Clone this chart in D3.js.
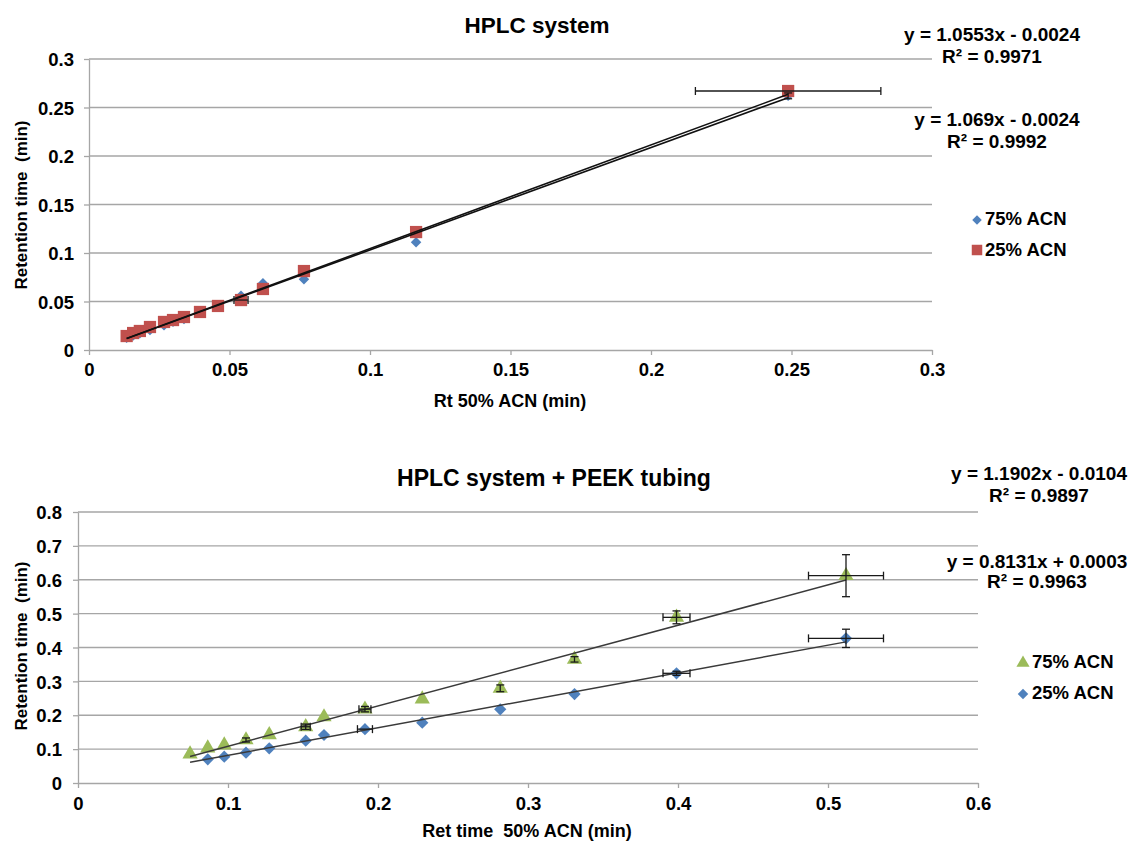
<!DOCTYPE html>
<html>
<head>
<meta charset="utf-8">
<script src="https://cdn.jsdelivr.net/npm/d3@7"></script>
<style>
  html, body { margin: 0; padding: 0; background: #fff; }
  svg { display: block; font-family: "Liberation Sans", Arial, sans-serif; font-weight: bold; }
</style>
</head>
<body>
<svg id="chart" width="1130" height="842"></svg>
<script>
// ---------- Top chart: HPLC system ----------
const topX = [0.0134, 0.0157, 0.0181, 0.0217, 0.0267, 0.0299, 0.0338, 0.0395, 0.0459, 0.0541, 0.0619, 0.0765, 0.1164, 0.2488];
const top75 = [0.0125, 0.0150, 0.0172, 0.0205, 0.0255, 0.0290, 0.0320, 0.0385, 0.0462, 0.0560, 0.0688, 0.0730, 0.1110, 0.2620];
const top25 = [0.0144, 0.0175, 0.0196, 0.0237, 0.0289, 0.0309, 0.0340, 0.0392, 0.0454, 0.0515, 0.0629, 0.0814, 0.1216, 0.2670];
const top25XErr = [0, 0, 0, 0, 0, 0, 0, 0, 0, 0.0025, 0, 0, 0, 0.033];
const top75YErr = [0, 0, 0, 0, 0, 0, 0, 0, 0, 0, 0, 0, 0, 0.003];
const topXTicks = [0, 0.05, 0.1, 0.15, 0.2, 0.25, 0.3];
const topYTicks = [0, 0.05, 0.1, 0.15, 0.2, 0.25, 0.3];
const topTrend75 = { slope: 1.0553, intercept: -0.0024, r2: "0.9971", eq: "y = 1.0553x - 0.0024" };
const topTrend25 = { slope: 1.069, intercept: -0.0024, r2: "0.9992", eq: "y = 1.069x - 0.0024" };
const topLegend = ["75% ACN", "25% ACN"];

// ---------- Bottom chart: HPLC system + PEEK tubing ----------
const botX = [0.0747, 0.0865, 0.0975, 0.112, 0.1275, 0.1518, 0.164, 0.1913, 0.2295, 0.2815, 0.331, 0.399, 0.512];
const bot75 = [0.0856, 0.103, 0.112, 0.127, 0.142, 0.166, 0.195, 0.218, 0.248, 0.2795, 0.365, 0.489, 0.612];
const bot25X = [0.0865, 0.0975, 0.112, 0.1275, 0.1518, 0.164, 0.1913, 0.2295, 0.2815, 0.331, 0.399, 0.512];
const bot25 = [0.070, 0.0777, 0.0895, 0.1024, 0.125, 0.1417, 0.159, 0.178, 0.2175, 0.2627, 0.3238, 0.427];
const bot75XErr = [0, 0, 0, 0, 0, 0.003, 0, 0.004, 0, 0, 0, 0.009, 0.025];
const bot75YErr = [0, 0, 0, 0.006, 0, 0.008, 0, 0.008, 0, 0.010, 0.008, 0.019, 0.062];
const bot25XErr = [0, 0, 0, 0, 0, 0, 0.005, 0, 0, 0, 0.009, 0.025];
const bot25YErr = [0, 0, 0, 0, 0, 0, 0, 0, 0, 0, 0.006, 0.027];
const botXTicks = [0, 0.1, 0.2, 0.3, 0.4, 0.5, 0.6];
const botYTicks = [0, 0.1, 0.2, 0.3, 0.4, 0.5, 0.6, 0.7, 0.8];
const botTrend75 = { slope: 1.1902, intercept: -0.0104, r2: "0.9897", eq: "y = 1.1902x - 0.0104", x0: 0.0747, x1: 0.512 };
const botTrend25 = { slope: 0.8131, intercept: 0.0003, r2: "0.9963", eq: "y = 0.8131x + 0.0003", x0: 0.0747, x1: 0.512 };
const botLegend = ["75% ACN", "25% ACN"];

const BLUE = "#4f81bd", RED = "#c0504d", GREEN = "#9bbb59", GRID = "#a6a6a6";
const TICK_FS = "18.5px", EQ_FS = "19px", LEG_FS = "18.5px";

const svg = d3.select("#chart");
svg.append("rect").attr("width", 1130).attr("height", 842).attr("fill", "#fff");

function diamond(size) { return d3.symbol().type(d3.symbolSquare).size(size)(); }

function drawPanel(o) {
  const g = svg.append("g");
  const x = d3.scaleLinear().domain(o.xDomain).range(o.xRange);
  const y = d3.scaleLinear().domain(o.yDomain).range(o.yRange);

  // gridlines
  g.selectAll(".grid").data(o.yTicks.slice(1)).join("line")
    .attr("x1", o.xRange[0]).attr("x2", o.xRange[1])
    .attr("y1", d => y(d)).attr("y2", d => y(d))
    .attr("stroke", GRID).attr("stroke-width", 1.3);

  // axes
  const xAxis = g.append("g").attr("transform", `translate(0,${o.yRange[0]})`)
    .call(d3.axisBottom(x).tickValues(o.xTicks).tickFormat(d => d3.format("")(d)).tickSize(5).tickSizeOuter(0));
  const yAxis = g.append("g").attr("transform", `translate(${o.xRange[0]},0)`)
    .call(d3.axisLeft(y).tickValues(o.yTicks).tickFormat(d => d3.format("")(d)).tickSize(5).tickSizeOuter(0));
  [xAxis, yAxis].forEach(a => {
    a.select(".domain").attr("stroke", GRID).attr("stroke-width", 1.3);
    a.selectAll(".tick line").attr("stroke", GRID).attr("stroke-width", 1.3);
    a.selectAll(".tick text").attr("fill", "#000").style("font-size", TICK_FS)
      .style("font-family", '"Liberation Sans", Arial, sans-serif').style("font-weight", "bold");
  });
  xAxis.selectAll(".tick text").attr("dy", null).attr("y", o.xLabelDy);
  yAxis.selectAll(".tick text").attr("x", -o.yLabelGap).attr("dy", "0.36em");

  // titles
  g.append("text").attr("x", o.titleX).attr("y", o.titleY).attr("text-anchor", "middle")
    .style("font-size", o.titleFS).text(o.title);
  g.append("text").attr("x", o.xTitleX).attr("y", o.xTitleY).attr("text-anchor", "middle")
    .style("font-size", "18px").attr("xml:space", "preserve").text(o.xTitle);
  g.append("text").attr("transform", `translate(${o.yTitleX},${o.yTitleY}) rotate(-90)`)
    .attr("text-anchor", "middle").style("font-size", "17px").attr("xml:space", "preserve").text(o.yTitle);

  // markers
  o.series.forEach(s => {
    const pts = s.x.map((xv, i) => ({ x: xv, y: s.y[i] }));
    const path = s.shape === "square" ? d3.symbol().type(d3.symbolSquare).size(s.size)()
      : s.shape === "triangle" ? d3.symbol().type(d3.symbolTriangle).size(s.size)()
      : diamond(s.size);
    const rot = s.shape === "diamond" ? " rotate(45)" : "";
    g.append("g").selectAll("path").data(pts).join("path")
      .attr("d", path)
      .attr("transform", d => `translate(${x(d.x)},${y(d.y)})${rot}`)
      .attr("fill", s.color);
  });

  // trendlines
  o.trends.forEach(t => {
    g.append("line")
      .attr("x1", x(t.x0)).attr("y1", y(t.slope * t.x0 + t.intercept))
      .attr("x2", x(t.x1)).attr("y2", y(t.slope * t.x1 + t.intercept))
      .attr("stroke", o.trendColor).attr("stroke-width", o.trendWidth);
  });

  // error bars
  const cap = 4;
  o.series.forEach(s => {
    const eg = g.append("g").attr("stroke", "#1a1a1a").attr("stroke-width", 1.3);
    s.x.forEach((xv, i) => {
      const yv = s.y[i];
      const xe = s.xErr ? s.xErr[i] : 0;
      const ye = s.yErr ? s.yErr[i] : 0;
      if (xe > 0) {
        eg.append("line").attr("x1", x(xv - xe)).attr("x2", x(xv + xe)).attr("y1", y(yv)).attr("y2", y(yv));
        eg.append("line").attr("x1", x(xv - xe)).attr("x2", x(xv - xe)).attr("y1", y(yv) - cap).attr("y2", y(yv) + cap);
        eg.append("line").attr("x1", x(xv + xe)).attr("x2", x(xv + xe)).attr("y1", y(yv) - cap).attr("y2", y(yv) + cap);
      }
      if (ye > 0) {
        eg.append("line").attr("x1", x(xv)).attr("x2", x(xv)).attr("y1", y(yv - ye)).attr("y2", y(yv + ye));
        eg.append("line").attr("x1", x(xv) - cap).attr("x2", x(xv) + cap).attr("y1", y(yv - ye)).attr("y2", y(yv - ye));
        eg.append("line").attr("x1", x(xv) - cap).attr("x2", x(xv) + cap).attr("y1", y(yv + ye)).attr("y2", y(yv + ye));
      }
    });
  });

  // equations
  o.eqs.forEach(e => {
    g.append("text").attr("x", e.cx).attr("y", e.y1).attr("text-anchor", "middle")
      .style("font-size", EQ_FS).text(e.t.eq);
    g.append("text").attr("x", e.cx).attr("y", e.y2).attr("text-anchor", "middle")
      .style("font-size", EQ_FS).text("R² = " + e.t.r2);
  });

  // legend
  o.legend.forEach((l, i) => {
    const s = o.series[l.series];
    const path = s.shape === "square" ? d3.symbol().type(d3.symbolSquare).size(l.size)()
      : s.shape === "triangle" ? d3.symbol().type(d3.symbolTriangle).size(l.size)()
      : diamond(l.size);
    const rot = s.shape === "diamond" ? " rotate(45)" : "";
    g.append("path").attr("d", path).attr("fill", s.color)
      .attr("transform", `translate(${l.mx},${l.my})${rot}`);
    g.append("text").attr("x", l.tx).attr("y", l.ty).style("font-size", LEG_FS)
      .text(l.label);
  });
}

topTrend75.x0 = d3.min(topX); topTrend75.x1 = d3.max(topX);
topTrend25.x0 = d3.min(topX); topTrend25.x1 = d3.max(topX);

drawPanel({
  xDomain: [0, 0.3], xRange: [89, 932], yDomain: [0, 0.3], yRange: [350, 59],
  xTicks: topXTicks, yTicks: topYTicks, xLabelDy: 26, yLabelGap: 15,
  title: "HPLC system", titleX: 537, titleY: 33, titleFS: "22.5px",
  xTitle: "Rt 50% ACN (min)", xTitleX: 510, xTitleY: 407,
  yTitle: "Retention time  (min)", yTitleX: 27, yTitleY: 205,
  series: [
    { x: topX, y: top75, color: BLUE, shape: "diamond", size: 55, yErr: top75YErr },
    { x: topX, y: top25, color: RED, shape: "square", size: 150, xErr: top25XErr }
  ],
  trends: [topTrend75, topTrend25], trendColor: "#111", trendWidth: 1.6,
  eqs: [
    { t: topTrend75, cx: 992, y1: 41, y2: 63 },
    { t: topTrend25, cx: 997, y1: 126, y2: 148 }
  ],
  legend: [
    { series: 0, label: topLegend[0], mx: 977, my: 220, size: 45, tx: 985, ty: 225 },
    { series: 1, label: topLegend[1], mx: 977, my: 250, size: 110, tx: 985, ty: 256 }
  ]
});

drawPanel({
  xDomain: [0, 0.6], xRange: [78, 978], yDomain: [0, 0.8], yRange: [783, 512],
  xTicks: botXTicks, yTicks: botYTicks, xLabelDy: 27, yLabelGap: 16,
  title: "HPLC system + PEEK tubing", titleX: 554, titleY: 486, titleFS: "23px",
  xTitle: "Ret time  50% ACN (min)", xTitleX: 527, xTitleY: 837,
  yTitle: "Retention time  (min)", yTitleX: 27, yTitleY: 646,
  series: [
    { x: botX, y: bot75, color: GREEN, shape: "triangle", size: 100, xErr: bot75XErr, yErr: bot75YErr },
    { x: bot25X, y: bot25, color: BLUE, shape: "diamond", size: 75, xErr: bot25XErr, yErr: bot25YErr }
  ],
  trends: [botTrend75, botTrend25], trendColor: "#3a3a3a", trendWidth: 1.5,
  eqs: [
    { t: botTrend75, cx: 1039, y1: 480, y2: 502 },
    { t: botTrend25, cx: 1037, y1: 568, y2: 588 }
  ],
  legend: [
    { series: 0, label: botLegend[0], mx: 1023, my: 663, size: 75, tx: 1032, ty: 668 },
    { series: 1, label: botLegend[1], mx: 1023, my: 694, size: 55, tx: 1032, ty: 699 }
  ]
});
</script>
</body>
</html>
